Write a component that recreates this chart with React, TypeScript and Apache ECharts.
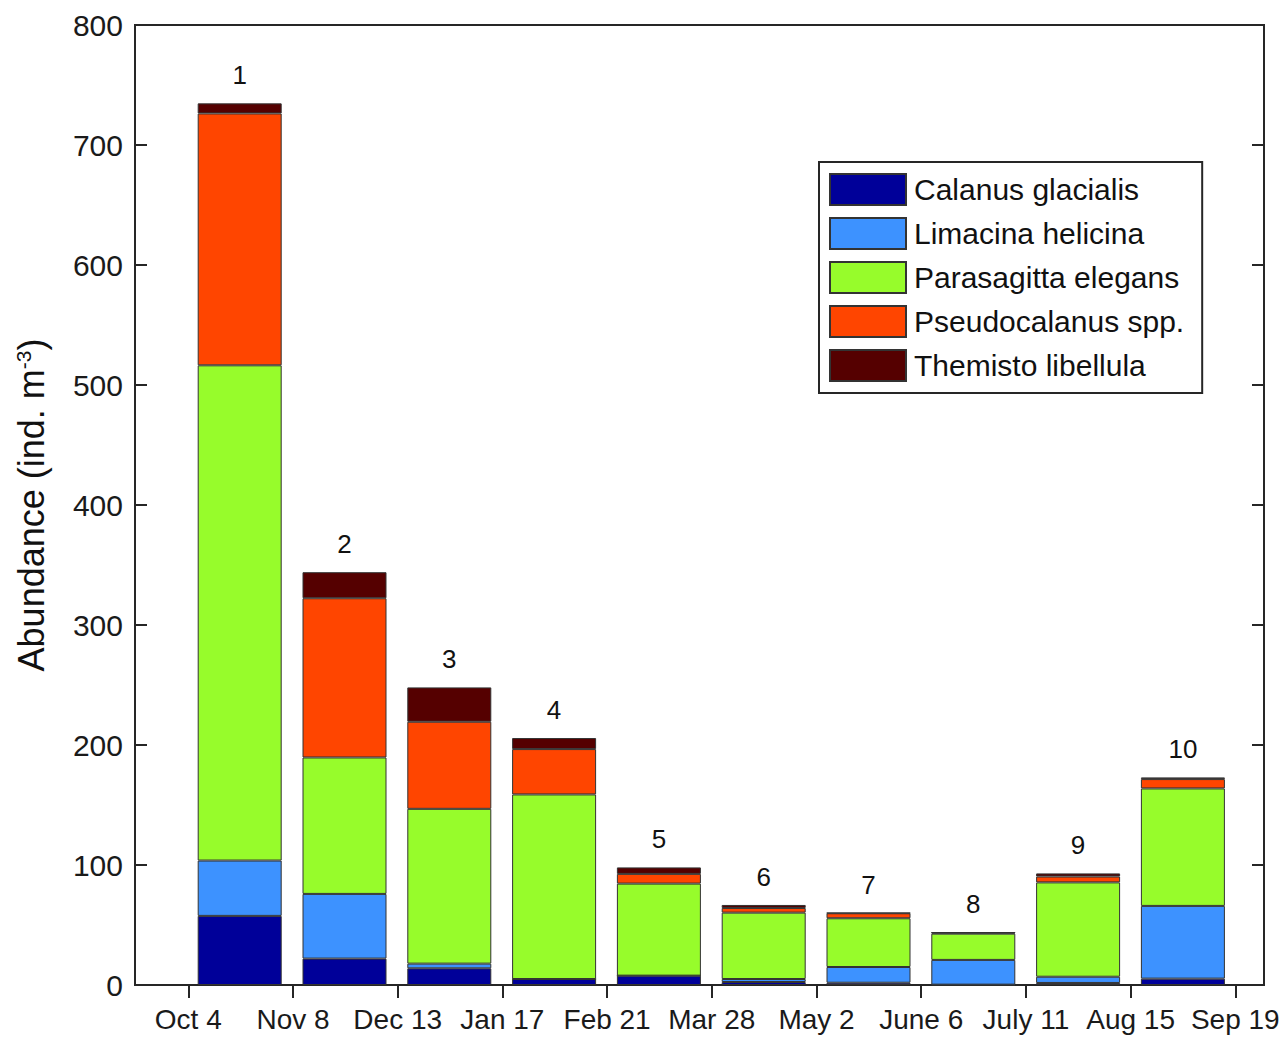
import React, { useEffect, useRef } from "react";
import * as echarts from "echarts";

const tickLabels = ["Oct 4", "Nov 8", "Dec 13", "Jan 17", "Feb 21", "Mar 28", "May 2", "June 6", "July 11", "Aug 15", "Sep 19"];
const barNumbers = ["1", "2", "3", "4", "5", "6", "7", "8", "9", "10"];

const calanus = [57.6, 22.0, 13.9, 5.0, 7.8, 2.5, 1.9, 0.3, 1.7, 5.3];
const limacina = [46.1, 53.9, 3.9, 0, 0, 2.5, 13.1, 20.6, 5.2, 60.6];
const parasagitta = [412.7, 113.7, 129.0, 153.8, 76.7, 55.3, 40.6, 21.9, 78.6, 97.9];
const pseudocalanus = [209.9, 132.7, 72.6, 37.8, 8.1, 3.9, 4.2, 0.8, 4.9, 7.8];
const themisto = [8.4, 21.7, 28.6, 9.2, 5.4, 2.5, 0.4, 0.3, 2.6, 1.4];

const speciesNames = ["Calanus glacialis", "Limacina helicina", "Parasagitta elegans", "Pseudocalanus spp.", "Themisto libellula"];
const speciesColors = ["#000099", "#3d92ff", "#97fc2b", "#ff4500", "#550000"];
const speciesValues = [calanus, limacina, parasagitta, pseudocalanus, themisto];

const FONT = "'Liberation Sans', Arial, Helvetica, sans-serif";

export default function App() {
  const ref = useRef<HTMLDivElement>(null);
  useEffect(() => {
    if (!ref.current) return;
    const chart = echarts.init(ref.current, undefined, { renderer: "svg" });
    const tickVals = tickLabels.map((_, i) => i);
    const series: any[] = speciesNames.map((name, si) => ({
      name,
      type: "bar",
      stack: "total",
      xAxisIndex: 1,
      yAxisIndex: 2,
      barWidth: 84,
      data: speciesValues[si],
      itemStyle: { color: speciesColors[si], borderColor: "#333333", borderWidth: 1 },
      label:
        si === speciesNames.length - 1
          ? {
              show: true,
              position: "top",
              distance: 15,
              fontSize: 26,
              fontFamily: FONT,
              color: "#111",
              formatter: (p: any) => barNumbers[p.dataIndex],
            }
          : { show: false },
      emphasis: { disabled: true },
    }));
    const axisLineStyle = { color: "#262626", width: 2 };
    chart.setOption({
      animation: false,
      backgroundColor: "#ffffff",
      grid: [
        {
          left: 135,
          right: 21,
          top: 25,
          bottom: 54,
          show: true,
          borderColor: "#262626",
          borderWidth: 2,
          backgroundColor: "transparent",
        },
        { left: 187.3, right: 49.7, top: 25, bottom: 54, show: false },
      ],
      legend: {
        orient: "vertical",
        left: 819,
        top: 162,
        itemWidth: 76,
        itemHeight: 31,
        itemGap: 11,
        padding: [11, 18, 11, 10],
        borderColor: "#262626",
        borderWidth: 2,
        backgroundColor: "#ffffff",
        icon: "rect",
        selectedMode: false,
        textStyle: { fontSize: 30, fontFamily: FONT, color: "#111", lineHeight: 31, padding: [0, 0, 0, 3] },
        data: speciesNames,
      },
      xAxis: [
        {
          type: "value",
          gridIndex: 0,
          min: -0.509,
          max: 10.274,
          axisLine: { show: true, onZero: false, lineStyle: axisLineStyle },
          axisTick: { show: true, inside: false, length: 13, customValues: tickVals, lineStyle: axisLineStyle },
          axisLabel: {
            show: true,
            customValues: tickVals,
            margin: 20,
            fontSize: 28,
            fontFamily: FONT,
            color: "#1a1a1a",
            formatter: (v: number) => tickLabels[Math.round(v)] ?? "",
          },
          splitLine: { show: false },
        },
        {
          type: "category",
          gridIndex: 1,
          data: barNumbers,
          boundaryGap: true,
          axisLine: { show: false },
          axisTick: { show: false },
          axisLabel: { show: false },
          splitLine: { show: false },
        },
      ],
      yAxis: [
        {
          type: "value",
          gridIndex: 0,
          min: 0,
          max: 800,
          interval: 100,
          position: "left",
          name: "Abundance (ind. m{sup|-3})",
          nameLocation: "middle",
          nameRotate: 90,
          nameGap: 86,
          nameTextStyle: {
            fontSize: 36,
            fontFamily: FONT,
            color: "#111",
            rich: { sup: { fontSize: 21, fontFamily: FONT, color: "#111", verticalAlign: "top", lineHeight: 21 } },
          },
          axisLine: { show: true, onZero: false, lineStyle: axisLineStyle },
          axisTick: { show: true, inside: true, length: 12, lineStyle: axisLineStyle },
          axisLabel: { margin: 12, fontSize: 30, fontFamily: FONT, color: "#1a1a1a" },
          splitLine: { show: false },
        },
        {
          type: "value",
          gridIndex: 0,
          min: 0,
          max: 800,
          interval: 100,
          position: "right",
          axisLine: { show: true, onZero: false, lineStyle: axisLineStyle },
          axisTick: { show: true, inside: true, length: 12, lineStyle: axisLineStyle },
          axisLabel: { show: false },
          splitLine: { show: false },
        },
        {
          type: "value",
          gridIndex: 1,
          min: 0,
          max: 800,
          interval: 100,
          axisLine: { show: false },
          axisTick: { show: false },
          axisLabel: { show: false },
          splitLine: { show: false },
        },
      ],
      series,
    });
    return () => chart.dispose();
  }, []);
  return (
    <div
      ref={ref}
      style={{ position: "fixed", left: 0, top: 0, width: 1285, height: 1039, background: "#fff" }}
    />
  );
}
